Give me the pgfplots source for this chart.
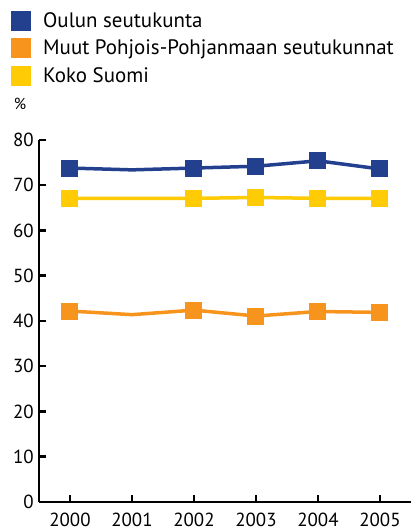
\documentclass[border=0pt]{standalone}
\usepackage{pgfplots}
\pgfplotsset{compat=1.18}
\usepackage{fontspec}
\setmainfont{PT Sans}
\definecolor{cblue}{RGB}{35,64,143}
\definecolor{corange}{RGB}{247,148,29}
\definecolor{cyellow}{RGB}{255,203,5}
\begin{document}
\begin{tikzpicture}
\path[use as bounding box] (0,0) rectangle (411bp,531bp);
\begin{axis}[
  at={(39bp,29bp)}, anchor=south west,
  scale only axis, width=372bp, height=362bp,
  xmin=1999.5, xmax=2005.5, ymin=0, ymax=80,
  axis x line*=bottom, axis y line*=left,
  xtick={2000,...,2005}, ytick={0,10,...,80},
  tick align=inside, major tick length=7bp,
  every tick/.style={black, line width=2.5bp},
  axis line style={line width=2.5bp, black},
  /pgf/number format/assume math mode=true,
  x tick label style={/pgf/number format/1000 sep={}, inner sep=0pt, anchor=north, yshift=-11bp},
  y tick label style={inner sep=0pt, anchor=east, xshift=-5bp},
  tick label style={font=\fontsize{19}{22}\selectfont},
  clip=false,
  legend style={at={(rel axis cs:-0.0753,1.358)}, anchor=north west, draw=none, fill=none,
    inner sep=0pt, font=\fontsize{21}{24}\selectfont, row sep=7.5bp, column sep=12bp,
    nodes={inner sep=0pt}, cells={anchor=west}},
  legend image code/.code={\fill[draw=none] (0bp,-10bp) rectangle (20bp,10bp);},
]
\addplot[color=cblue, line width=3.5bp, mark=square*, mark size=8bp, mark indices={1,3,4,5,6}, mark options={solid, line width=0bp}]
  coordinates {(2000,73.8) (2001,73.4) (2002,73.8) (2003,74.2) (2004,75.4) (2005,73.6)};
\addlegendentry{Oulun seutukunta}
\addplot[color=corange, line width=3.5bp, mark=square*, mark size=8bp, mark indices={1,3,4,5,6}, mark options={solid, line width=0bp}]
  coordinates {(2000,42.2) (2001,41.4) (2002,42.4) (2003,41.1) (2004,42.1) (2005,41.9)};
\addlegendentry{Muut Pohjois-Pohjanmaan seutukunnat}
\addplot[color=cyellow, line width=3.5bp, mark=square*, mark size=8bp, mark indices={1,3,4,5,6}, mark options={solid, line width=0bp}]
  coordinates {(2000,67.1) (2001,67.1) (2002,67.1) (2003,67.3) (2004,67.1) (2005,67.1)};
\addlegendentry{Koko Suomi}
\node[font=\fontsize{16}{18}\selectfont, inner sep=0pt] at (rel axis cs:-0.051,1.099) {\%};
\end{axis}
\end{tikzpicture}
\end{document}
